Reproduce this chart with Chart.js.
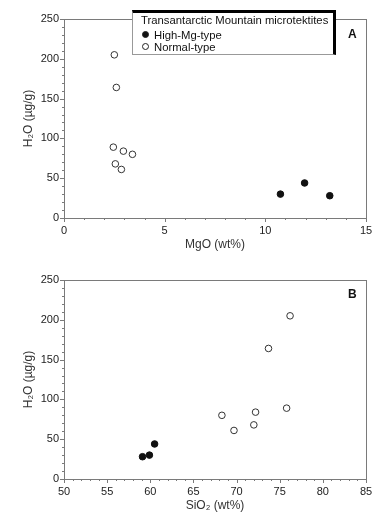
<!DOCTYPE html>
<html>
<head>
<meta charset="utf-8">
<script src="https://cdn.jsdelivr.net/npm/chart.js@4"></script>
<style>
  body { margin: 0; background: #fff; font-family: "Liberation Sans", Arial, sans-serif; }
  .panel { position: relative; width: 392px; height: 261px; }
  .tag { position: absolute; font-weight: bold; font-size: 12px; color: #111; line-height: 12px; }
  #legend { position: absolute; left: 132px; top: 10px; width: 200px; height: 41px; background: #fff;
    border-top: 3px solid #000; border-right: 3px solid #000; border-left: 1px solid #999; border-bottom: 1px solid #999;
    font-size: 11.3px; color: #111; line-height: 12px; }
  #legend .ttl { position: absolute; left: 8px; top: 1px; white-space: nowrap; }
  #legend .it { position: absolute; left: 9px; white-space: nowrap; }
  #legend .mk { display: inline-block; width: 5px; height: 5px; border-radius: 50%; border: 1px solid #222; margin-right: 5px; vertical-align: 1px; }
</style>
</head>
<body>
<div class="panel">
  <canvas id="chartA" width="392" height="261"></canvas>
  <div id="legend"></div>
  <div class="tag" style="left:348px; top:28px;">A</div>
</div>
<div class="panel">
  <canvas id="chartB" width="392" height="261"></canvas>
  <div class="tag" style="left:348px; top:27px;">B</div>
</div>
<script>
// data
var legendTitle = 'Transantarctic Mountain microtektites';
var seriesNames = ['High-Mg-type', 'Normal-type'];

var highMgO  = [10.75, 11.95, 13.2];
var highH2O  = [30, 44, 28];
var highSiO2 = [59.9, 60.5, 59.1];

var normMgO  = [2.5, 2.6, 2.45, 2.95, 3.4, 2.55, 2.85];
var normH2O  = [205, 164, 89, 84, 80, 68, 61];
var normSiO2 = [76.2, 73.7, 75.8, 72.2, 68.3, 72.0, 69.7];

var yTicks = [0, 50, 100, 150, 200, 250];
var xTicksA = [0, 5, 10, 15];
var xTicksB = [50, 55, 60, 65, 70, 75, 80, 85];

function pts(xs, ys) {
    return xs.map(function(x, i) { return {x: x, y: ys[i]}; });
}

// box round the plot + major/minor tick marks
var frame = {
    id: 'frame',
    afterDatasetsDraw: function(chart) {
        var ctx = chart.ctx, a = chart.chartArea;
        var xs = chart.scales.x, ys = chart.scales.y;
        var xStep = chart.options.plugins.frame.xMinor, yStep = chart.options.plugins.frame.yMinor;
        ctx.save();
        ctx.strokeStyle = '#7a7a7a';
        ctx.lineWidth = 1;
        ctx.strokeRect(Math.round(a.left) + 0.5, Math.round(a.top) + 0.5,
            Math.round(a.right - a.left), Math.round(a.bottom - a.top));
        ctx.beginPath();
        for (var v = xs.min; v <= xs.max + 1e-9; v += xStep) {
            var px = Math.round(xs.getPixelForValue(v)) + 0.5;
            var len = (Math.abs(v % 5) < 1e-6) ? 4 : 2;
            ctx.moveTo(px, Math.round(a.bottom));
            ctx.lineTo(px, Math.round(a.bottom) + len);
        }
        for (var w = ys.min; w <= ys.max + 1e-9; w += yStep) {
            var py = Math.round(ys.getPixelForValue(w)) + 0.5;
            var l2 = (Math.abs(w % 50) < 1e-6) ? 4 : 2;
            ctx.moveTo(Math.round(a.left), py);
            ctx.lineTo(Math.round(a.left) - l2, py);
        }
        ctx.stroke();
        ctx.restore();
    }
};

function makeChart(id, xMin, xMax, xTicks, xTitle, highX, normX) {
    return new Chart(document.getElementById(id), {
        type: 'scatter',
        data: {
            datasets: [{
                label: seriesNames[0],
                data: pts(highX, highH2O),
                backgroundColor: '#111',
                borderColor: '#111',
                borderWidth: 1,
                pointRadius: 3.3
            }, {
                label: seriesNames[1],
                data: pts(normX, normH2O),
                backgroundColor: '#fff',
                borderColor: '#333',
                borderWidth: 1,
                pointRadius: 3.3
            }]
        },
        options: {
            responsive: false,
            animation: false,
            layout: { padding: { top: 19, right: 26, bottom: 0, left: 0 } },
            plugins: {
                legend: { display: false },
                tooltip: { enabled: false },
                frame: { xMinor: 1, yMinor: 10 }
            },
            scales: {
                x: {
                    type: 'linear',
                    min: xMin, max: xMax,
                    afterBuildTicks: function(s) { s.ticks = xTicks.map(function(v) { return {value: v}; }); },
                    afterFit: function(s) { s.height = 43; },
                    grid: { drawOnChartArea: false, color: 'rgba(0,0,0,0)', tickLength: 4 },
                    border: { display: false },
                    ticks: { padding: 2, color: '#222', font: { size: 11, family: 'Liberation Sans' }, maxRotation: 0 },
                    title: { display: true, text: xTitle, color: '#333', padding: { top: 0, bottom: 9 },
                        font: { size: 12, family: 'Liberation Sans' } }
                },
                y: {
                    min: 0, max: 250,
                    afterBuildTicks: function(s) { s.ticks = yTicks.map(function(v) { return {value: v}; }); },
                    afterFit: function(s) { s.width = 64; },
                    grid: { drawOnChartArea: false, color: 'rgba(0,0,0,0)', tickLength: 4 },
                    border: { display: false },
                    ticks: { padding: 1, color: '#222', font: { size: 11, family: 'Liberation Sans' } },
                    title: { display: true, text: 'H₂O (µg/g)', color: '#333', padding: { top: 21, bottom: 0 },
                        font: { size: 12, family: 'Liberation Sans' } }
                }
            }
        },
        plugins: [frame]
    });
}

var chartA = makeChart('chartA', 0, 15, xTicksA, 'MgO (wt%)', highMgO, normMgO);
var chartB = makeChart('chartB', 50, 85, xTicksB, 'SiO₂ (wt%)', highSiO2, normSiO2);

// legend box of panel A, built from the dataset labels
var lg = document.getElementById('legend');
var html = '<div class="ttl">' + legendTitle + '</div>';
chartA.data.datasets.forEach(function(ds, i) {
    html += '<div class="it" style="top:' + (16 + i * 12) + 'px"><span class="mk" style="background:' +
        ds.backgroundColor + '"></span>' + ds.label + '</div>';
});
lg.innerHTML = html;
</script>
</body>
</html>
